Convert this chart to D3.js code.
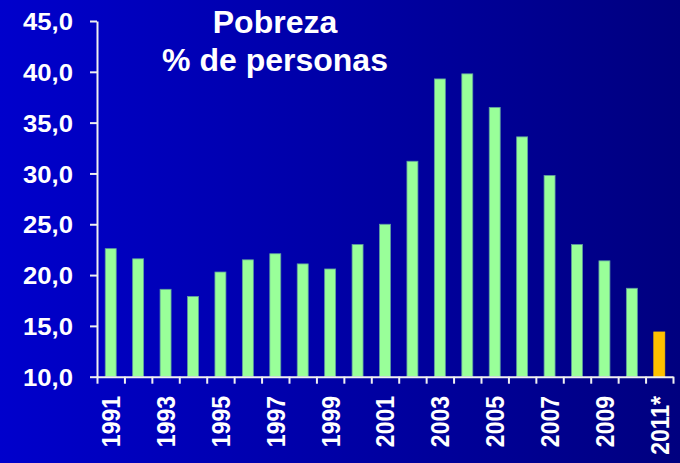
<!DOCTYPE html>
<html>
<head>
<meta charset="utf-8">
<script src="https://cdn.jsdelivr.net/npm/d3@7"></script>
<style>
  html, body { margin: 0; padding: 0; background: #000080; }
  svg { display: block; }
  text { font-family: "Liberation Sans", Arial, sans-serif; font-weight: bold; fill: #ffffff; }
</style>
</head>
<body>
<script>
const years = ["1991","1992","1993","1994","1995","1996","1997","1998","1999","2000",
               "2001","2002","2003","2004","2005","2006","2007","2008","2009","2010","2011*"];
const poverty = [22.6, 21.6, 18.6, 17.9, 20.3, 21.5, 22.1, 21.1, 20.6, 23.0,
                 25.0, 31.2, 39.3, 39.8, 36.5, 33.6, 29.8, 23.0, 21.4, 18.7, 14.4];
const yTicks = [10, 15, 20, 25, 30, 35, 40, 45];
const labelYears = ["1991","1993","1995","1997","1999","2001","2003","2005","2007","2009","2011*"];
const titleLines = ["Pobreza", "% de personas"];
const estimateYear = "2011*";

const W = 680, H = 463;
const svg = d3.select("body").append("svg").attr("width", W).attr("height", H);

const defs = svg.append("defs");
const grad = defs.append("linearGradient").attr("id", "bg").attr("x1", "0").attr("x2", "1").attr("y1", "0").attr("y2", "0");
grad.append("stop").attr("offset", "0").attr("stop-color", "#0000cc");
grad.append("stop").attr("offset", "1").attr("stop-color", "#00007f");
svg.append("rect").attr("width", W).attr("height", H).attr("fill", "url(#bg)");

const plotLeft = 97, plotRight = 673, plotTop = 21, plotBottom = 376.7;

const x = d3.scaleBand().domain(years).range([plotLeft, plotRight]).paddingInner(0.6).paddingOuter(0.3);
const y = d3.scaleLinear().domain([10, 45]).range([plotBottom, plotTop]);
const xb = d3.scaleLinear().domain([0, years.length]).range([plotLeft, plotRight]);

// bars
svg.append("g").selectAll("rect").data(years).join("rect")
  .attr("x", d => x(d))
  .attr("width", x.bandwidth())
  .attr("y", (d, i) => y(poverty[i]))
  .attr("height", (d, i) => y(10) - y(poverty[i]))
  .attr("fill", d => d === estimateYear ? "#ffc000" : "#99ff99")
  .attr("stroke", d => d === estimateYear ? "#ffc000" : "#5f9ea0")
  .attr("stroke-width", 0.8);

// y axis
const fmt = d3.format(".1f");
const yAxis = svg.append("g").attr("transform", `translate(${plotLeft},0)`)
  .call(d3.axisLeft(y).tickValues(yTicks).tickSize(7).tickSizeOuter(0).tickPadding(17)
    .tickFormat(d => fmt(d).replace(".", ",")));
yAxis.attr("font-family", null).attr("font-size", null);
yAxis.selectAll("path, line").attr("stroke", "#f0f0f0").attr("stroke-width", 2);
yAxis.selectAll("text")
  .attr("font-size", 24)
  .attr("fill", "#ffffff")
  .attr("x", 0)
  .attr("dy", "0.36em")
  .attr("transform", "translate(-24,0) scale(1.07,1)");

// x axis (ticks at category boundaries)
const xAxis = svg.append("g").attr("transform", `translate(0,${plotBottom})`)
  .call(d3.axisBottom(xb).tickValues(d3.range(years.length + 1)).tickSize(7).tickSizeOuter(0).tickFormat(""));
xAxis.selectAll("path, line").attr("stroke", "#f0f0f0").attr("stroke-width", 2);

// x labels
svg.append("g").selectAll("text").data(labelYears).join("text")
  .attr("transform", d => `translate(${x(d) + x.bandwidth() / 2},396) rotate(-90) scale(1,1.14)`)
  .attr("text-anchor", "end")
  .attr("dy", "0.36em")
  .attr("font-size", 23)
  .text(d => d);

// title
svg.append("g").selectAll("text").data(titleLines).join("text")
  .attr("x", 275)
  .attr("y", (d, i) => 33 + i * 38)
  .attr("text-anchor", "middle")
  .attr("font-size", 32)
  .text(d => d);
</script>
</body>
</html>
